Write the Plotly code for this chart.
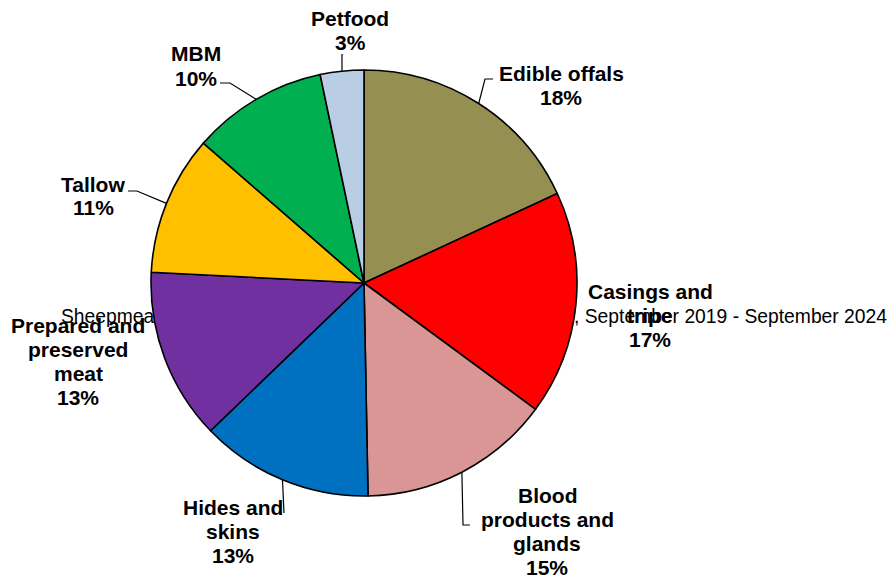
import math
import plotly.graph_objects as go

# ---- data ----
categories = ["Edible offals", "Casings and tripe", "Blood products and glands",
              "Hides and skins", "Prepared and preserved meat", "Tallow", "MBM", "Petfood"]
shares = [18.1, 17.0, 14.6, 13.1, 13.0, 10.6, 10.3, 3.3]
label_lines = [["Edible offals"], ["Casings and", "tripe"], ["Blood", "products and", "glands"],
               ["Hides and", "skins"], ["Prepared and", "preserved", "meat"], ["Tallow"], ["MBM"], ["Petfood"]]
title_text = "Sheepmeat co-products exports by value share, by category, September 2019 - September 2024"

# ---- styling / layout ----
PAGE_OFF = 0                 # body margin removed via post_script
FW, FH = 888, 578
colors = ["#968F52", "#FF0000", "#D99694", "#0070C0", "#7030A0", "#FFC000", "#00B050", "#B9CDE5"]
CX, CY, R = 364, 283, 213    # pie centre / radius in window pixels
FONT = "Arial, Liberation Sans, sans-serif"
LINE_H = 24

# label: centre x and first-line centre y (window px)
label_pos = [(561, 73), (650, 291), (547, 495), (233, 507), (78, 325), (93, 184), (196, 54), (350, 18)]
leader_pts = [
    [(485, 79), (493, 79)],
    None,
    [(463, 525), (470, 525)],
    [(284, 513)],
    None,
    [(137, 191), (128, 191)],
    [(230, 83), (220, 83)],
    [(342, 54)],
]


def px(x):
    return (x - PAGE_OFF) / FW


def py(y):
    return 1 - (y - PAGE_OFF) / FH


fig = go.Figure(go.Pie(
    labels=categories,
    values=shares,
    sort=False,
    direction="clockwise",
    rotation=0,
    marker=dict(colors=colors, line=dict(color="black", width=1.6)),
    textinfo="none",
    hoverinfo="label+percent",
    showlegend=False,
    domain=dict(x=[px(CX - R), px(CX + R)], y=[py(CY + R), py(CY - R)]),
))

total = sum(shares)
annotations = []
shapes = []
cum = 0.0
for i, (cat, v) in enumerate(zip(categories, shares)):
    mid = (cum + v / 2) / total * 2 * math.pi
    cum += v
    ex = CX + R * math.sin(mid)
    ey = CY - R * math.cos(mid)
    lx, ly = label_pos[i]
    lines = label_lines[i] + [f"{round(v / total * 100)}%"]
    for k, line in enumerate(lines):
        annotations.append(dict(
            x=px(lx), y=py(ly + k * LINE_H), xref="paper", yref="paper",
            text=f"<b>{line}</b>",
            showarrow=False, xanchor="center", yanchor="middle", align="center",
            font=dict(family=FONT, size=21, color="black"),
        ))
    if leader_pts[i]:
        pts = [(ex, ey)] + leader_pts[i]
        path = "M " + " L ".join(f"{px(a):.5f},{py(b):.5f}" for a, b in pts)
        shapes.append(dict(type="path", path=path, xref="paper", yref="paper",
                           line=dict(color="black", width=1.2), layer="above"))

# title drawn below the pie (as in the reference, where the pie covers it)
shapes.append(dict(
    type="rect", xref="paper", yref="paper",
    x0=px(40), x1=px(893), y0=py(328), y1=py(300),
    line=dict(width=0), fillcolor="rgba(0,0,0,0)", layer="below",
    label=dict(text=title_text, textposition="middle right", padding=3,
               font=dict(family=FONT, size=19.3, color="black")),
))

fig.update_layout(
    width=FW, height=FH,
    margin=dict(l=0, r=0, t=0, b=0),
    paper_bgcolor="white", plot_bgcolor="white",
    annotations=annotations, shapes=shapes,
)

fig.write_html("out.html",
               config={"displayModeBar": False},
               post_script="document.body.style.margin='0';document.body.style.overflow='hidden';")
